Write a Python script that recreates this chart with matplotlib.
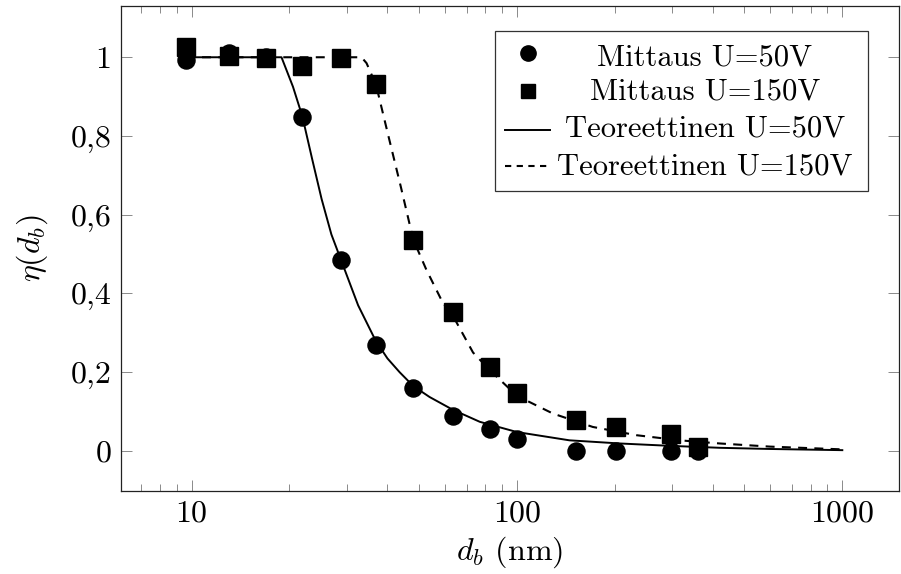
import matplotlib.pyplot as plt
from matplotlib.patches import Rectangle
from matplotlib.ticker import FixedLocator, LogLocator, NullFormatter

plt.rcParams["font.family"] = "cmr10"
plt.rcParams["mathtext.fontset"] = "cm"
plt.rcParams["axes.unicode_minus"] = False
plt.rcParams["axes.formatter.use_mathtext"] = True

# Measured collection efficiency
d_meas = [9.6, 13.0, 16.9, 21.9, 28.8, 36.8, 48.0, 63.4, 82.6, 100, 152, 202, 297, 361]
eta_50 = [0.993, 1.010, 1.0, 0.847, 0.485, 0.269, 0.161, 0.088, 0.057, 0.030,
          0.0, 0.0, 0.0, 0.0]
eta_150 = [1.027, 1.003, 0.997, 0.978, 0.997, 0.932, 0.537, 0.352, 0.214, 0.146,
           0.078, 0.060, 0.043, 0.010]

# Theoretical curves
d_theory_50 = [9.6, 18.9, 20.5, 21.9, 23.5, 25.1, 26.9, 28.8, 32.5, 36.8, 40.0,
               43.6, 48.0, 53.9, 63.4, 76.9, 100, 145, 207, 295, 420, 600, 1000]
eta_theory_50 = [1.0, 1.0, 0.925, 0.85, 0.74, 0.64, 0.55, 0.485, 0.37, 0.28, 0.235,
                 0.20, 0.165, 0.137, 0.105, 0.074, 0.048, 0.027, 0.019, 0.013,
                 0.008, 0.005, 0.002]
d_theory_150 = [9.6, 33.3, 34.5, 36.9, 40.0, 44.0, 48.0, 52.7, 59.3, 63.4, 73.3,
                82.6, 100, 129, 171, 233, 316, 420, 600, 1000]
eta_theory_150 = [1.0, 1.0, 0.985, 0.93, 0.81, 0.67, 0.537, 0.46, 0.375, 0.345,
                  0.25, 0.205, 0.14, 0.095, 0.061, 0.040, 0.027, 0.019, 0.011,
                  0.004]

y_ticks = [0, 0.2, 0.4, 0.6, 0.8, 1.0]
y_tick_labels = ["0", "0,2", "0,4", "0,6", "0,8", "1"]
x_ticks = [10, 100, 1000]
x_tick_labels = ["10", "100", "1000"]
legend_labels = ["Mittaus U=50V", "Mittaus U=150V",
                 "Teoreettinen U=50V", "Teoreettinen U=150V"]

FONT_SIZE = 23
LEGEND_SIZE = 22
DASHES = (0, (4.3, 3.5))

fig = plt.figure(figsize=(9.01, 5.74), dpi=100)
ax = fig.add_axes([0.1343, 0.1451, 0.8630, 0.8450])

ax.plot(d_meas, eta_50, "o", color="black", markersize=12.3, zorder=3)
ax.plot(d_meas, eta_150, "s", color="black", markersize=12.3, zorder=3)
ax.plot(d_theory_50, eta_theory_50, "-", color="black", linewidth=1.4, zorder=4)
ax.plot(d_theory_150, eta_theory_150, color="black", linewidth=1.5,
        linestyle=DASHES, zorder=4)

ax.set_xscale("log")
ax.set_xlim(6.07, 1489)
ax.set_ylim(-0.101, 1.131)

ax.xaxis.set_major_locator(FixedLocator(x_ticks))
ax.set_xticklabels(x_tick_labels)
ax.xaxis.set_minor_locator(LogLocator(base=10, subs=range(2, 10)))
ax.xaxis.set_minor_formatter(NullFormatter())
ax.set_yticks(y_ticks)
ax.set_yticklabels(y_tick_labels)

ax.tick_params(which="both", direction="in", top=True, right=True,
               color="#777777", labelsize=FONT_SIZE)
ax.tick_params(which="major", length=7.7, width=0.6, pad=7)
ax.tick_params(which="minor", length=5.3, width=0.6)
for spine in ax.spines.values():
    spine.set_color("#222222")
    spine.set_linewidth(0.9)

ax.set_xlabel(r"$d_b$ (nm)", fontsize=FONT_SIZE, labelpad=5)
ax.set_ylabel(r"$\eta(d_b)$", fontsize=FONT_SIZE, labelpad=15)

# Legend box with centred entry texts
ax.add_patch(Rectangle((0.481, 0.618), 0.480, 0.330, transform=ax.transAxes,
                       facecolor="white", edgecolor="#333333", linewidth=0.9,
                       zorder=5))
handle_y = [0.902, 0.825, 0.744, 0.6695]
text_y = [0.8777, 0.8056, 0.730, 0.651]
ax.plot([0.5235], [handle_y[0]], "o", color="black", markersize=11,
        transform=ax.transAxes, zorder=6, clip_on=False)
ax.plot([0.5235], [handle_y[1]], "s", color="black", markersize=10.5,
        transform=ax.transAxes, zorder=6, clip_on=False)
ax.plot([0.4936, 0.5514], [handle_y[2]] * 2, "-", color="black", linewidth=1.4,
        transform=ax.transAxes, zorder=6, clip_on=False)
ax.plot([0.4936, 0.5514], [handle_y[3]] * 2, color="black", linewidth=1.5,
        linestyle=(0, (3.0, 2.6)), transform=ax.transAxes, zorder=6,
        clip_on=False)
for label, y in zip(legend_labels, text_y):
    ax.text(0.751, y, label, transform=ax.transAxes, ha="center", va="baseline",
            fontsize=LEGEND_SIZE, zorder=6)

fig.savefig("out.png", dpi=100)
